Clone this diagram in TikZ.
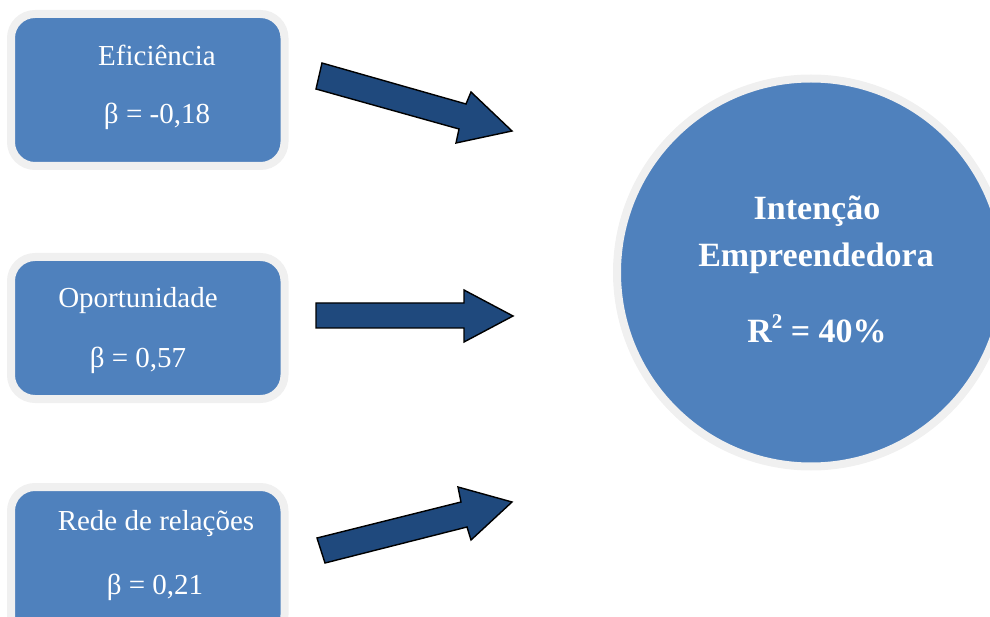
\documentclass[tikz,border=0pt]{standalone}
\usepackage{fontspec}
\setmainfont{Liberation Serif}
\definecolor{boxblue}{HTML}{4F81BD}
\definecolor{ringgray}{HTML}{F0F0F0}
\definecolor{arrowblue}{HTML}{1F497D}
\begin{document}
\begin{tikzpicture}[x=1pt,y=-1pt,
  factorbox/.style={draw=ringgray, line width=8pt, fill=boxblue, rounded corners=24pt,
    minimum width=273.5pt, inner sep=0pt},
  boxtext/.style={text=white, font=\fontsize{29}{34}\selectfont, inner sep=0pt},
  circtext/.style={text=white, font=\fontsize{34}{40}\selectfont\bfseries, inner sep=0pt},
  blockarrow/.style={draw=black, line width=1.4pt, fill=arrowblue, line join=miter}]
\useasboundingbox (0,0) rectangle (990,617);
\clip (0,0) rectangle (990,617);
% factor boxes
\node[factorbox, minimum height=152pt] (b1) at (147.75,90) {};
\node[factorbox, minimum height=142pt] (b2) at (147.75,328) {};
\node[factorbox, minimum height=152pt] (b3) at (147.75,563) {};
\node[boxtext] (t1a) at (157,55) {Eficiência};
\node[boxtext] (t1b) at (157,116) {β = -0,18};
\node[boxtext] (t2a) at (138,301) {Oportunidade};
\node[boxtext] (t2b) at (138,360) {β = 0,57};
\node[boxtext] (t3a) at (156,524) {Rede de relações};
\node[boxtext] (t3b) at (155,587) {β = 0,21};
% outcome circle
\node[circle, draw=ringgray, line width=8pt, fill=boxblue, minimum size=388pt, inner sep=0pt] (c) at (811,272.5) {};
\node[circtext] (c1) at (817,211) {Intenção};
\node[circtext] (c2) at (816,258) {Empreendedora};
\node[circtext] (c3) at (817,329) {R\raisebox{0.42em}{\fontsize{21}{21}\selectfont 2} = 40\%};
% block arrows
\draw[blockarrow] (322,63) -- (466,104) -- (471,92) -- (512,131) -- (456,143) -- (459,129) -- (316,89) -- cycle;
\draw[blockarrow] (316,303) -- (464,303) -- (464,290) -- (513,316) -- (464,342) -- (464,328) -- (316,328) -- cycle;
\draw[blockarrow] (317,538) -- (461,502) -- (458,487) -- (512,502) -- (471,540) -- (467,527) -- (325,563) -- cycle;
\end{tikzpicture}
\end{document}
